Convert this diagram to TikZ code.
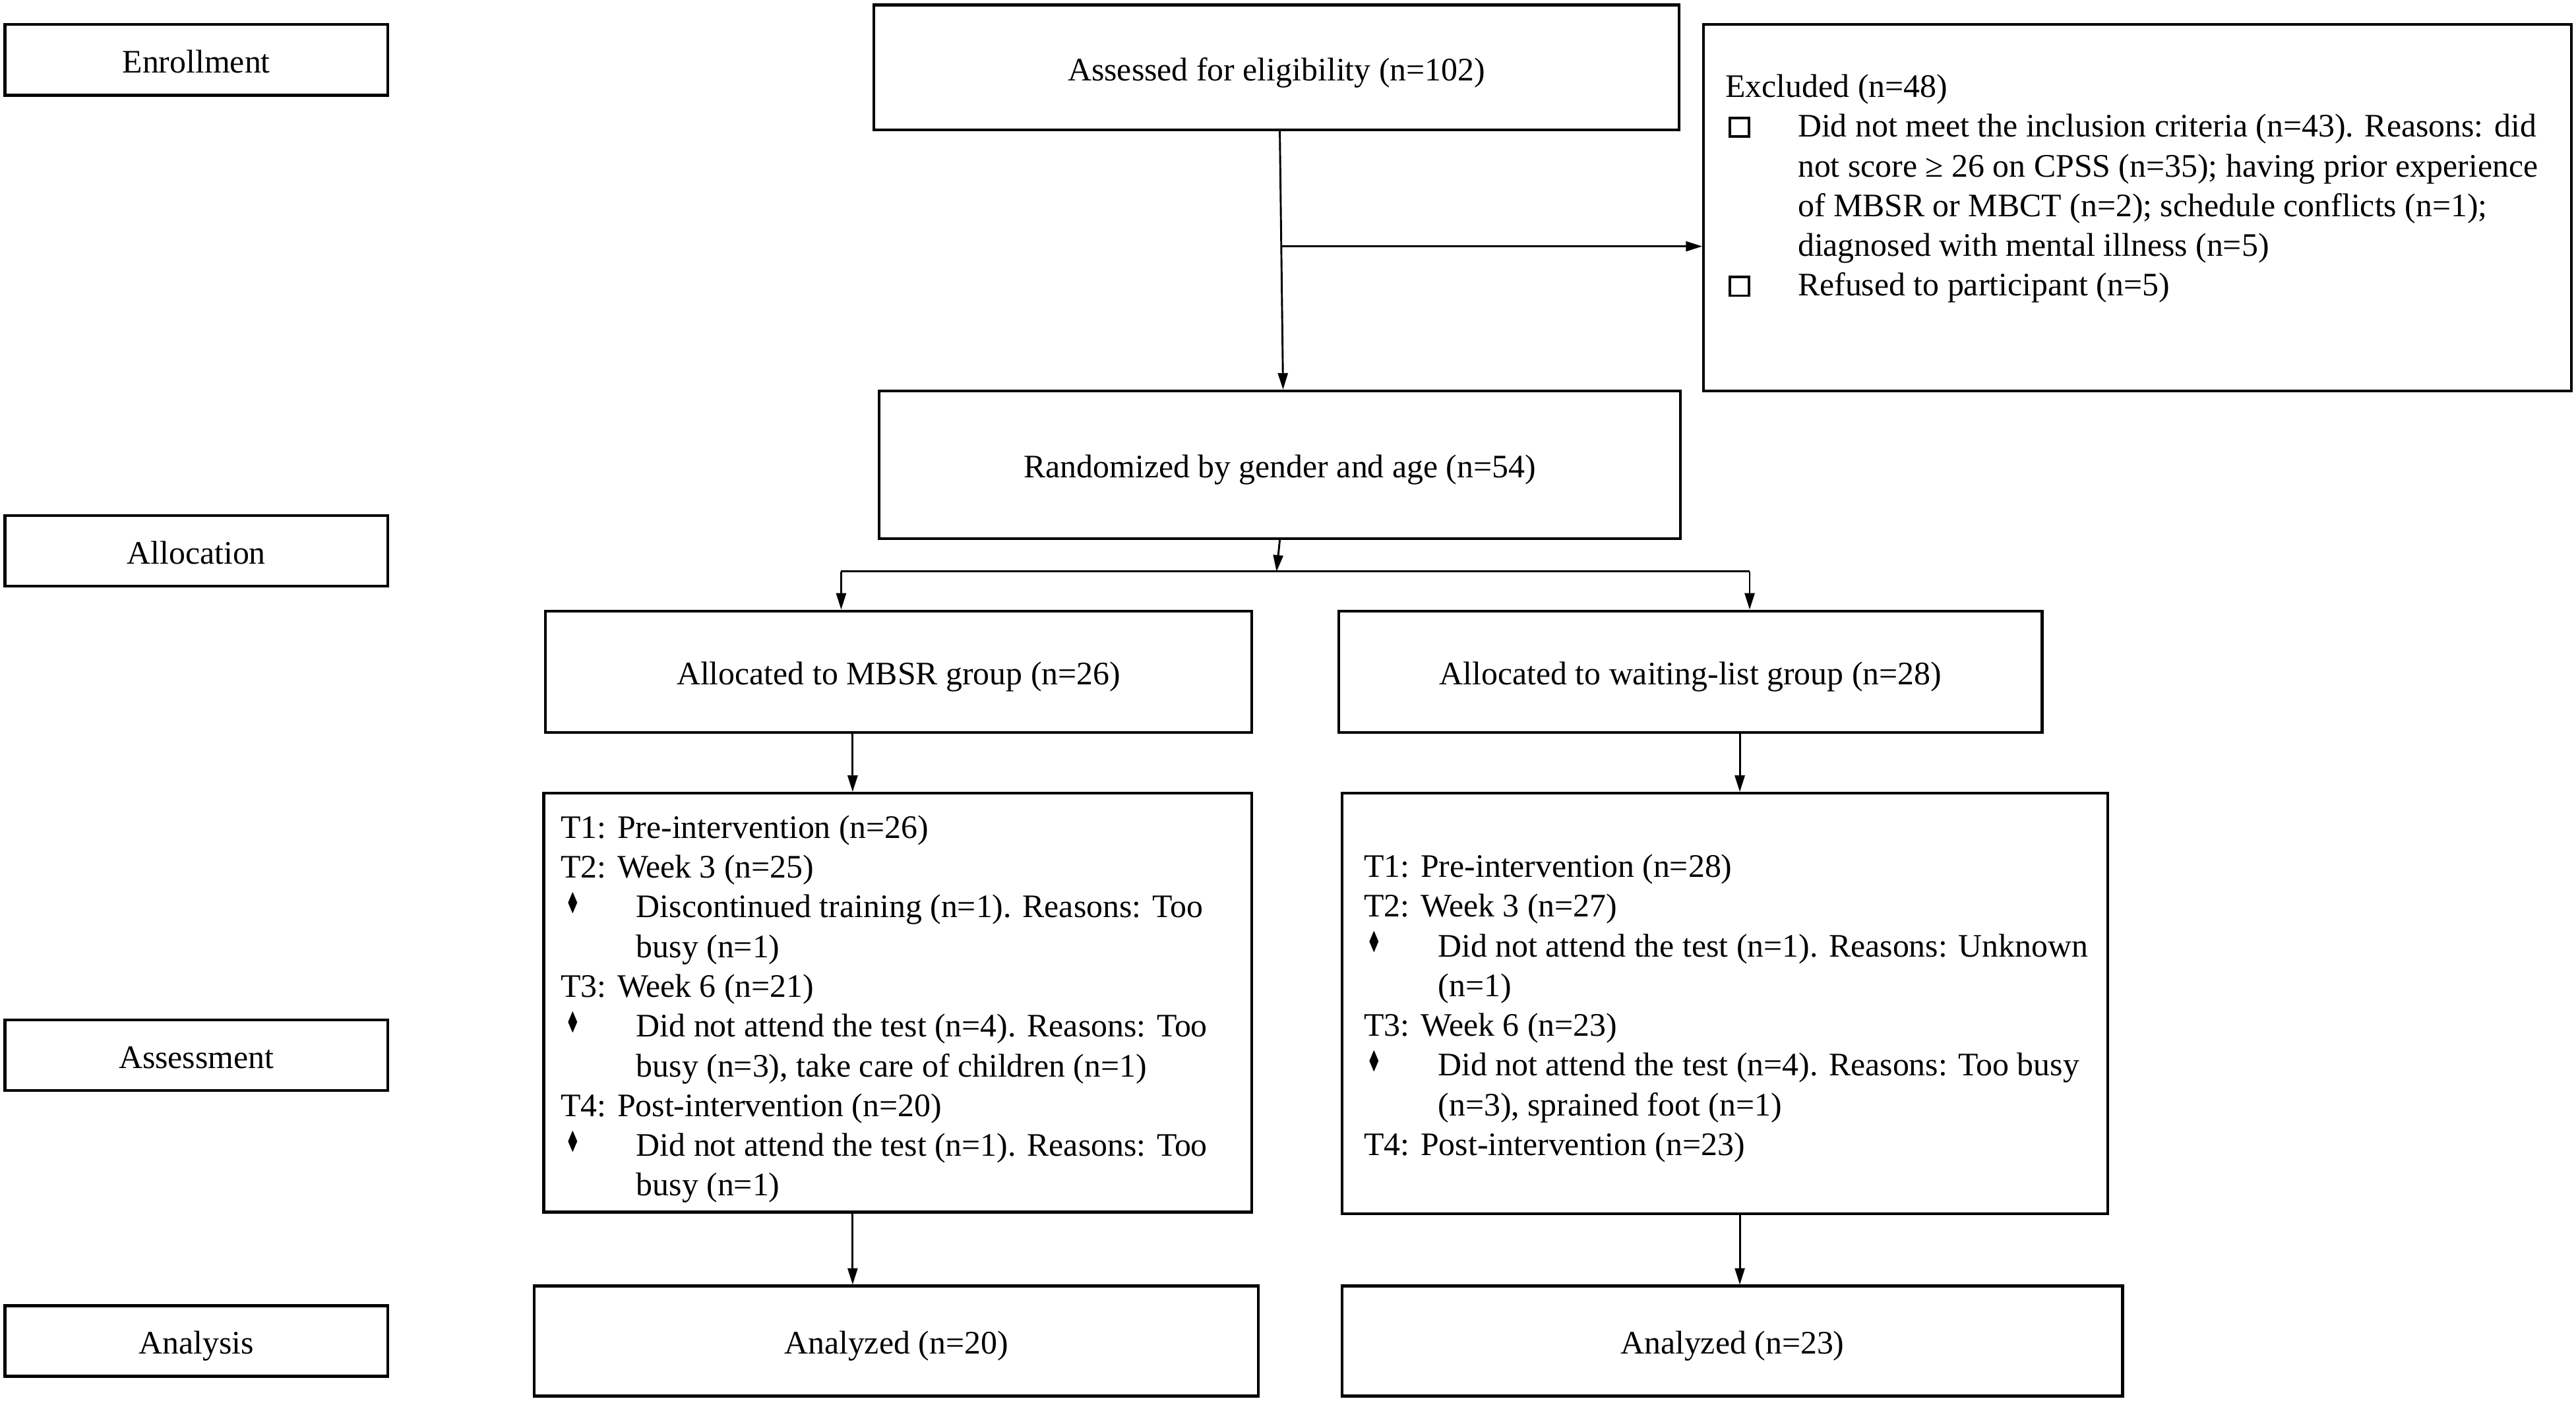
\documentclass[tikz,border=0pt]{standalone}
\usepackage{amssymb}
\usepackage{fontspec}
\setmainfont{Liberation Serif}
\usetikzlibrary{arrows.meta}

\newcommand{\sqbox}{\raisebox{0.1ex}{\setlength{\fboxsep}{0pt}\setlength{\fboxrule}{0.9pt}\fbox{\rule{0pt}{6pt}\hspace{6pt}}}}
\newcommand{\dmd}{\raisebox{0.5ex}{\scalebox{0.5}[0.75]{$\blacklozenge$}}}

\begin{document}
\begin{tikzpicture}[x=0.6pt,y=-0.6pt,font=\fontsize{12}{14.52}\selectfont,
  stage/.style={draw,line width=1pt,minimum width=139.8pt,minimum height=25.8pt,inner sep=0pt,text height=9.6pt,text depth=0pt},
  box/.style={draw,line width=1pt,inner sep=0pt,text height=9.6pt,text depth=0pt},
  txt/.style={inner sep=0pt,align=left},
  arr/.style={line width=0.7pt,-{Triangle[length=6pt,width=3.6pt]}}]
\useasboundingbox (0,0) rectangle (1568,853);

% stages
\node[stage] (enrol) at (119.5,36.5) {Enrollment};
\node[stage] (alloc) at (119.5,335.5) {Allocation};
\node[stage] (asmt) at (119.5,642.5) {Assessment};
\node[stage] (anal) at (119.5,816.5) {Analysis};

% enrollment
\node[box,minimum width=294pt,minimum height=45.6pt] (elig) at (777,41) {Assessed for eligibility (n=102)};
\node[draw,line width=1pt,minimum width=316.8pt,minimum height=133.8pt] (excl) at (1301,126.5) {};
\node[txt,anchor=north west] (excltxt) at (1050,45) {Excluded (n=48)\\
\makebox[26.4pt][l]{\hspace{1.2pt}\sqbox}Did not meet the inclusion criteria (n=43). Reasons: did\\
\hspace*{26.4pt}not score ≥ 26 on CPSS (n=35); having prior experience\\
\hspace*{26.4pt}of MBSR or MBCT (n=2); schedule conflicts (n=1);\\
\hspace*{26.4pt}diagnosed with mental illness (n=5)\\
\makebox[26.4pt][l]{\hspace{1.2pt}\sqbox}Refused to participant (n=5)};
\node[box,minimum width=292.8pt,minimum height=54pt] (rand) at (779,283) {Randomized by gender and age (n=54)};

% allocation
\node[box,minimum width=258pt,minimum height=44.4pt] (mbsr) at (547,409) {Allocated to MBSR group (n=26)};
\node[box,minimum width=256.8pt,minimum height=44.4pt] (wait) at (1029,409) {Allocated to waiting-list group (n=28)};

% assessment
\node[draw,line width=1pt,minimum width=258.6pt,minimum height=153pt] (mbsrT) at (546.5,610.5) {};
\node[txt,anchor=west] (mbsrtxt) at (341,614.5) {T1: Pre-intervention (n=26)\\
T2: Week 3 (n=25)\\
\makebox[27.6pt][l]{\hspace{2.4pt}\dmd}Discontinued training (n=1). Reasons: Too\\
\hspace*{27.6pt}busy (n=1)\\
T3: Week 6 (n=21)\\
\makebox[27.6pt][l]{\hspace{2.4pt}\dmd}Did not attend the test (n=4). Reasons: Too\\
\hspace*{27.6pt}busy (n=3), take care of children (n=1)\\
T4: Post-intervention (n=20)\\
\makebox[27.6pt][l]{\hspace{2.4pt}\dmd}Did not attend the test (n=1). Reasons: Too\\
\hspace*{27.6pt}busy (n=1)};
\node[draw,line width=1pt,minimum width=279.6pt,minimum height=153.6pt] (waitT) at (1050,611) {};
\node[txt,anchor=west] (waittxt) at (830,614) {T1: Pre-intervention (n=28)\\
T2: Week 3 (n=27)\\
\makebox[27pt][l]{\hspace{1.8pt}\dmd}Did not attend the test (n=1). Reasons: Unknown\\
\hspace*{27pt}(n=1)\\
T3: Week 6 (n=23)\\
\makebox[27pt][l]{\hspace{1.8pt}\dmd}Did not attend the test (n=4). Reasons: Too busy\\
\hspace*{27pt}(n=3), sprained foot (n=1)\\
T4: Post-intervention (n=23)};

% analysis
\node[box,minimum width=264.6pt,minimum height=40.2pt] (res1) at (545.5,816.5) {Analyzed (n=20)};
\node[box,minimum width=285pt,minimum height=40.2pt] (res2) at (1054.5,816.5) {Analyzed (n=23)};

% connectors
\coordinate (ea) at (779,0);
\coordinate (eb) at (781,0);
\draw[arr] (ea |- elig.south) -- (eb |- rand.north);
\coordinate (ex) at (780,150);
\draw[arr] (ex) -- (ex -| excl.west);
\coordinate (split) at (777,348);
\draw[arr] (rand.south) -- (split);
\coordinate (sl) at (512,348);
\coordinate (sr) at (1065,348);
\draw[line width=0.7pt] (sl) -- (sr);
\draw[arr] (sl) -- (sl |- mbsr.north);
\draw[arr] (sr) -- (sr |- wait.north);
\coordinate (cl) at (519,0);
\coordinate (cr) at (1059,0);
\draw[arr] (cl |- mbsr.south) -- (cl |- mbsrT.north);
\draw[arr] (cr |- wait.south) -- (cr |- waitT.north);
\draw[arr] (cl |- mbsrT.south) -- (cl |- res1.north);
\draw[arr] (cr |- waitT.south) -- (cr |- res2.north);
\end{tikzpicture}
\end{document}
